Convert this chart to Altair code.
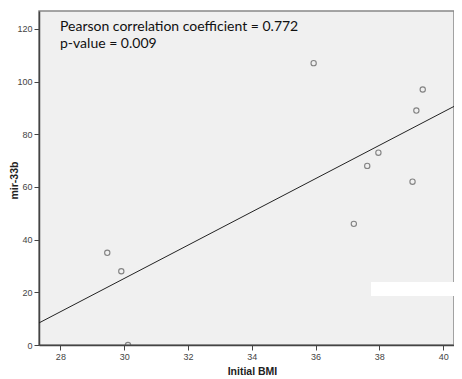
import altair as alt
import pandas as pd

bmi = [29.47, 29.91, 30.12, 35.94, 37.20, 37.62, 37.97, 39.04, 39.16, 39.36]
mir33b = [35, 28, 0, 107, 46, 68, 73, 62, 89, 97]
annot_lines = ["Pearson correlation coefficient = 0.772", "p-value = 0.009"]
x_ticks = [28, 30, 32, 34, 36, 38, 40]
y_ticks = [0, 20, 40, 60, 80, 100, 120]

df = pd.DataFrame({"bmi": bmi, "mir": mir33b})
xdom = [27.33, 40.34]
ydom = [0, 126.8]

xs = alt.Scale(domain=xdom, nice=False, zero=False)
ys = alt.Scale(domain=ydom, nice=False, zero=False)

xax = alt.Axis(title="Initial BMI", values=x_ticks, grid=False, tickSize=5, tickColor="#444",
               domainColor="#444", domainWidth=1.5, labelFontSize=9, labelColor="#444",
               labelFont="Liberation Sans", titleFont="Liberation Sans", titleFontSize=10.5,
               titleFontWeight="bold", titleColor="#222", labelPadding=2,
               titleX=213, titleY=26, titleAlign="center", titleBaseline="middle")
yax = alt.Axis(title="mir-33b", values=y_ticks, grid=False, tickSize=5, tickColor="#444",
               domainColor="#444", domainWidth=1.5, labelFontSize=9, labelColor="#444",
               labelFont="Liberation Sans", titleFont="Liberation Sans", titleFontSize=10.5,
               titleFontWeight="bold", titleColor="#222", labelPadding=2,
               titleX=-25, titleY=169, titleAngle=270, titleAlign="center",
               titleBaseline="middle")

base = alt.Chart(df)

line = base.transform_regression("bmi", "mir", extent=xdom).mark_line(
    color="#222", strokeWidth=1, clip=True
).encode(x=alt.X("bmi:Q", scale=xs, axis=xax), y=alt.Y("mir:Q", scale=ys, axis=yax))

pts = base.mark_point(shape="circle", filled=False, size=28, color="#555", strokeWidth=1.1,
                      clip=True).encode(x=alt.X("bmi:Q", scale=xs), y=alt.Y("mir:Q", scale=ys))

cover = alt.Chart(pd.DataFrame({"k": [0]})).mark_rect(color="white").encode(
    x=alt.value(332), x2=alt.value(417), y=alt.value(271), y2=alt.value(285)
)

annot1 = alt.Chart(pd.DataFrame({"t": [annot_lines[0]]})).mark_text(
    align="left", baseline="alphabetic", font="Lato", fontSize=14, color="#111"
).encode(x=alt.value(21), y=alt.value(20), text="t:N")
annot2 = alt.Chart(pd.DataFrame({"t": [annot_lines[1]]})).mark_text(
    align="left", baseline="alphabetic", font="Lato", fontSize=14, color="#111"
).encode(x=alt.value(21), y=alt.value(37), text="t:N")

chart = alt.layer(line, pts, cover, annot1, annot2).properties(
    width=415, height=334,
    autosize=alt.AutoSizeParams(type="none"),
    padding={"left": 31, "top": 3, "right": 0, "bottom": 30},
).configure_view(fill="#f0f0f0", stroke="#888", strokeWidth=1.5)

chart.save("out.html", embed_options={"renderer": "svg", "actions": False})
